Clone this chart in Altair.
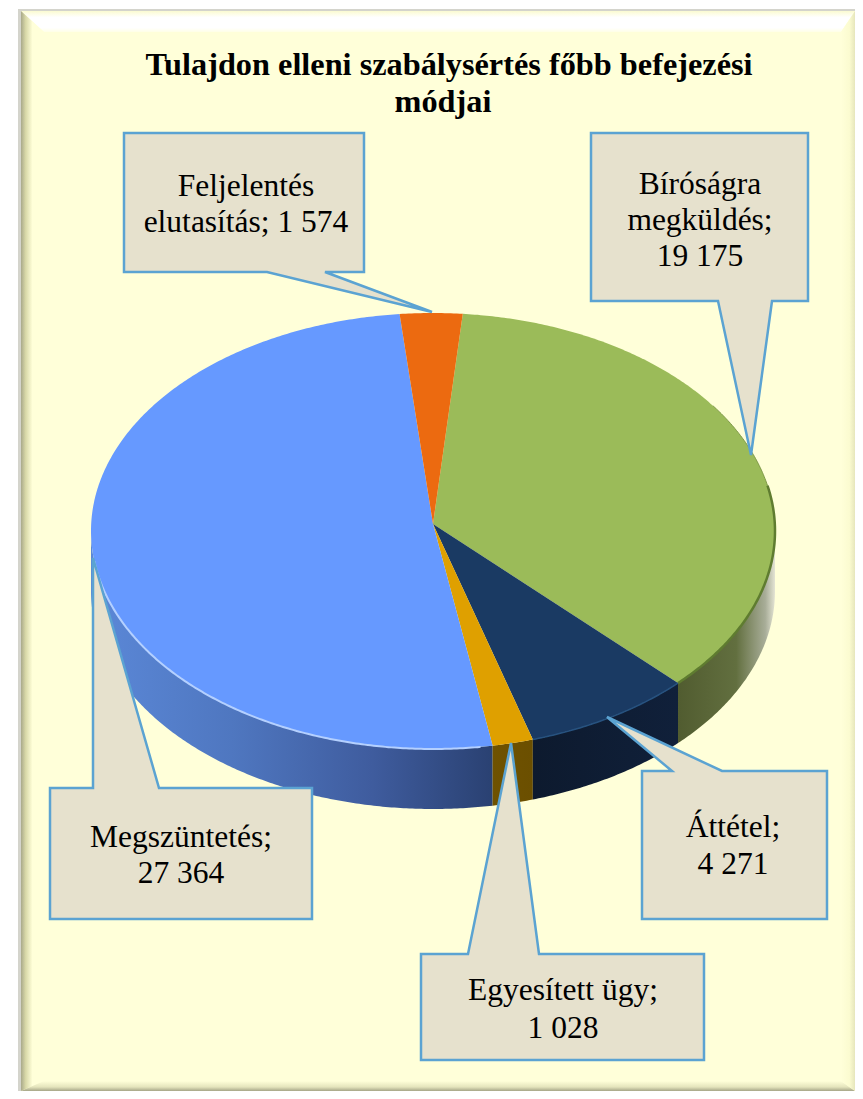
import math
import altair as alt

# ---- data ----
categories = ["Bírósági megküldés", "Áttétel", "Egyesített ügy", "Megszüntetés", "Feljelentés elutasítás"]
values = [19175, 4271, 1028, 27364, 1574]
face_colors = ["#9bbb59", "#1a3a63", "#dfa000", "#6699ff", "#ec6a10"]
title_lines = ["Tulajdon elleni szabálysértés főbb befejezési", "módjai"]
label_lines = [
    ["Feljelentés", "elutasítás; 1 574"],
    ["Bíróságra", "megküldés;", "19 175"],
    ["Áttétel;", "4 271"],
    ["Egyesített ügy;", "1 028"],
    ["Megszüntetés;", "27 364"],
]

# ---- layout ----
W, H = 847, 1083
OX, OY = 8, 8
CX, CY, RX, RY = 433, 531, 342, 218
APEX = (433, 524)
DEPTH = 60
START = 5.0

total = sum(values)
edges = [START]
for v in values:
    edges.append(edges[-1] + v / total * 360)


def rim(theta, dy=0):
    t = math.radians(theta)
    return [CX + RX * math.sin(t), CY - RY * math.cos(t) + dy]


def arc(a, b, dy=0):
    n = max(2, int(abs(b - a) * 2))
    return [rim(a + (b - a) * i / n, dy) for i in range(n + 1)]


def poly(points, name=""):
    pts = [list(p) for p in points]
    return {"type": "Feature", "properties": {"name": name},
            "geometry": {"type": "Polygon", "coordinates": [pts + [pts[0]]]}}


def line(points):
    return {"type": "Feature", "properties": {},
            "geometry": {"type": "LineString", "coordinates": [list(p) for p in points]}}


def grad(stops, horizontal=True):
    return alt.LinearGradient(
        gradient="linear",
        stops=[alt.GradientStop(offset=o, color=c) for o, c in stops],
        x1=0, y1=0, x2=1 if horizontal else 0, y2=0 if horizontal else 1,
    )


def shape(features, **mark):
    return alt.Chart(alt.Data(values=features)).mark_geoshape(**mark).project(
        type="identity", scale=1, translate=[-OX, -OY]
    )


layers = []

# frame
L, T, R, B = 18, 9, 855, 1091
layers.append(shape([poly([(L, T), (R, T), (R, B), (L, B)])], fill="#d4d4cc", strokeWidth=0))
IL, IT = 21, 11
layers.append(shape([poly([(IL, IT), (R, IT), (R, B), (IL, B)])], fill="#ffffd9", strokeWidth=0))
layers.append(shape([poly([(IL, IT), (R, IT), (R - 14, 32), (44, 32)])],
                    fill=grad([(0, "#fbfbd0"), (0.3, "#ffffff"), (0.8, "#ffffff"), (1, "#ffffe6")], False),
                    strokeWidth=0))
layers.append(shape([poly([(IL, IT), (44, 32), (44, B - 10), (IL, B)])],
                    fill=grad([(0, "#a9a98a"), (0.2, "#d8d8a8"), (0.5, "#ffffd9"), (1, "#ffffd9")]),
                    strokeWidth=0))
layers.append(shape([poly([(IL, B), (R, B), (R - 14, B - 10), (44, B - 10)])],
                    fill=grad([(0, "#ffffd9"), (0.6, "#e4e4bc"), (1, "#a6a688")], False),
                    strokeWidth=0))
layers.append(shape([poly([(R, T + 2), (R, B), (R - 14, B - 10), (R - 14, 32)])],
                    fill=grad([(0, "#ffffd9"), (0.6, "#fbfbd0"), (1, "#e6e6bc")]),
                    strokeWidth=0))

# side walls of the slices that face the viewer
side_fills = {
    0: grad([(0, "#515c30"), (0.6, "#626f3f"), (0.9, "#a8ad98"), (1, "#e4e4d4")]),
    1: grad([(0, "#0d1a2e"), (1, "#10203a")]),
    2: grad([(0, "#6f5200"), (1, "#6b4f00")]),
    3: grad([(0, "#5b88d8"), (0.35, "#4f77c0"), (0.7, "#3f5c9e"), (1, "#2a4172")]),
}
for i in [3, 2, 1, 0]:
    a = max(edges[i], 90)
    b = min(edges[i + 1], 270)
    top = arc(a, b)
    bot = arc(a, b, DEPTH)
    layers.append(shape([poly(top + bot[::-1])], fill=side_fills[i], strokeWidth=0))

# top faces
faces = []
for i, name in enumerate(categories):
    faces.append(poly([APEX] + arc(edges[i], edges[i + 1]), name))
layers.append(
    shape(faces, strokeWidth=0).encode(
        color=alt.Color("properties.name:N",
                        scale=alt.Scale(domain=categories, range=face_colors),
                        legend=None)
    )
)

# rim highlights
layers.append(shape([line(arc(172, 262))], filled=False, stroke="#b4d0ff", strokeWidth=2))
layers.append(shape([line(arc(55, 78))], filled=False, stroke="#7f9a48", strokeWidth=1))
layers.append(shape([line(arc(78, edges[1]))], filled=False, stroke="#5f7c30", strokeWidth=2.5))
layers.append(shape([line(arc(edges[1], edges[2]))], filled=False, stroke="#27527f", strokeWidth=1.5))

# callouts
callouts = [
    [(124, 133), (364, 133), (364, 272), (325, 272), (432, 312), (267, 272), (124, 272)],
    [(591, 133), (808, 133), (808, 301), (772, 301), (751, 455), (718, 301), (591, 301)],
    [(642, 771), (672, 771), (607, 717), (722, 771), (827, 771), (827, 919), (642, 919)],
    [(421, 954), (468, 954), (511, 743), (539, 954), (704, 954), (704, 1060), (421, 1060)],
    [(50, 788), (93, 788), (93, 558), (159, 788), (312, 788), (312, 919), (50, 919)],
]
layers.append(shape([poly(c) for c in callouts], fill="#e6e1cd", stroke="#5ba3d2", strokeWidth=2.5,
                    strokeJoin="miter"))

x_scale = alt.Scale(domain=[OX, OX + W], range=[0, W])
y_scale = alt.Scale(domain=[OY, OY + H], range=[0, H])


def text(rows, **mark):
    return alt.Chart(alt.Data(values=rows)).mark_text(
        font="Liberation Serif", color="#000000", align="center", baseline="middle", **mark
    ).encode(
        x=alt.X("x:Q", scale=x_scale, axis=None),
        y=alt.Y("y:Q", scale=y_scale, axis=None),
        text="t:N",
    )


title_pos = [(449, 65), (443, 102)]
layers.append(text([{"t": t, "x": p[0], "y": p[1]} for t, p in zip(title_lines, title_pos)],
                   fontSize=32.3, fontWeight="bold"))

label_pos = [
    [(246, 187), (246, 223)],
    [(700, 185), (700, 221), (700, 257)],
    [(733, 828), (733, 865)],
    [(563, 991), (563, 1029)],
    [(181, 838), (181, 874)],
]
rows = []
for lines, pos in zip(label_lines, label_pos):
    for t, p in zip(lines, pos):
        rows.append({"t": t, "x": p[0], "y": p[1]})
layers.append(text(rows, fontSize=31.5))

chart = alt.layer(*layers).properties(
    width=W, height=H, padding=0, autosize=alt.AutoSizeParams(type="none"),
    background="#ffffff",
).configure_view(stroke=None).resolve_scale(color="independent")

chart.save("out.html", embed_options={"renderer": "svg", "actions": False})
